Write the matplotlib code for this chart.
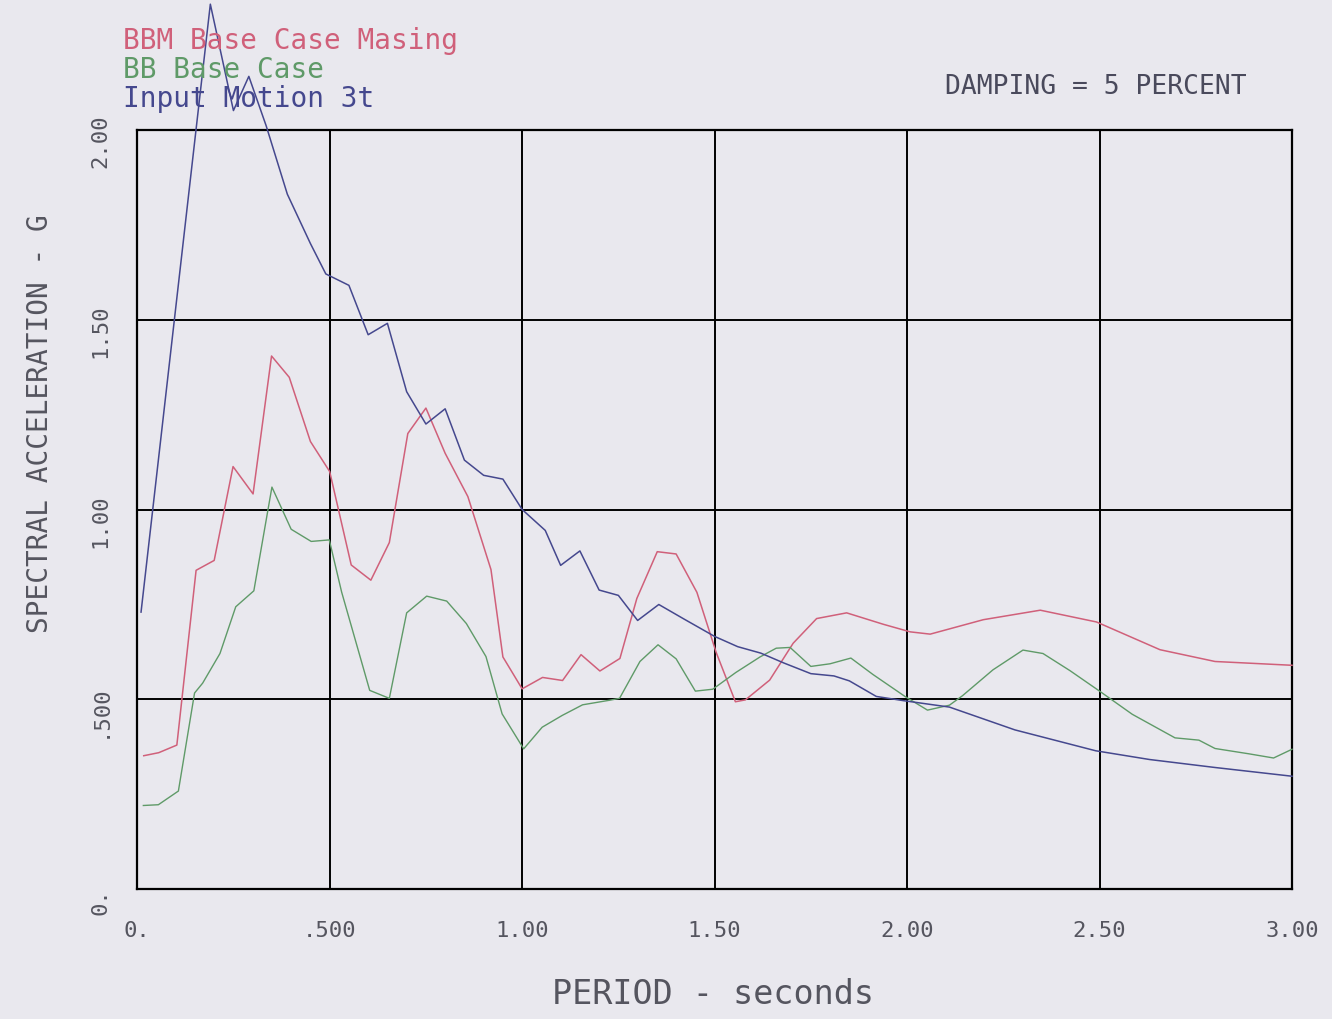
import matplotlib
matplotlib.use("Agg")
import matplotlib.pyplot as plt
import matplotlib.transforms as mtransforms

# Input Motion 3t (blue)
period_input = [0.01, 0.19, 0.25, 0.29, 0.335, 0.39, 0.45, 0.49, 0.55, 0.60, 0.65,
                0.70, 0.75, 0.80, 0.85, 0.90, 0.95, 1.00, 1.06, 1.10, 1.15, 1.20,
                1.25, 1.30, 1.355, 1.42, 1.50, 1.56, 1.62, 1.68, 1.75, 1.81, 1.85,
                1.92, 1.99, 2.11, 2.28, 2.49, 2.63, 2.80, 3.00]
sa_input = [0.73, 2.33, 2.05, 2.14, 2.01, 1.83, 1.70, 1.62, 1.59, 1.46, 1.49,
            1.31, 1.225, 1.265, 1.13, 1.09, 1.08, 1.00, 0.945, 0.853, 0.891, 0.788,
            0.774, 0.708, 0.75, 0.712, 0.666, 0.639, 0.622, 0.596, 0.568, 0.562, 0.549,
            0.508, 0.497, 0.48, 0.42, 0.365, 0.342, 0.321, 0.298]

# BBM Base Case Masing (red)
period_bbm = [0.017, 0.056, 0.103, 0.153, 0.20, 0.249, 0.301, 0.349, 0.395, 0.45,
              0.50, 0.556, 0.607, 0.655, 0.703, 0.75, 0.80, 0.859, 0.919, 0.95,
              1.00, 1.053, 1.105, 1.153, 1.202, 1.254, 1.298, 1.351, 1.40, 1.454,
              1.504, 1.554, 1.58, 1.643, 1.704, 1.765, 1.843, 1.938, 2.008, 2.06,
              2.198, 2.346, 2.492, 2.657, 2.80, 3.00]
sa_bbm = [0.352, 0.36, 0.38, 0.84, 0.866, 1.113, 1.041, 1.404, 1.348, 1.179,
          1.10, 0.854, 0.814, 0.913, 1.20, 1.267, 1.148, 1.034, 0.842, 0.612,
          0.528, 0.558, 0.55, 0.618, 0.575, 0.608, 0.766, 0.889, 0.883, 0.782,
          0.624, 0.494, 0.499, 0.551, 0.648, 0.713, 0.728, 0.698, 0.678, 0.672,
          0.71, 0.735, 0.704, 0.631, 0.60, 0.59]

# BB Base Case (green)
period_bb = [0.016, 0.055, 0.107, 0.149, 0.17, 0.215, 0.256, 0.303, 0.35, 0.40,
             0.452, 0.499, 0.531, 0.604, 0.655, 0.70, 0.752, 0.804, 0.855, 0.906,
             0.948, 1.004, 1.052, 1.104, 1.157, 1.227, 1.253, 1.306, 1.353, 1.40,
             1.45, 1.495, 1.555, 1.618, 1.66, 1.696, 1.75, 1.80, 1.854, 1.911,
             1.996, 2.053, 2.11, 2.144, 2.223, 2.301, 2.353, 2.423, 2.50, 2.585,
             2.696, 2.758, 2.80, 2.888, 2.952, 3.00]
sa_bb = [0.221, 0.223, 0.259, 0.517, 0.543, 0.621, 0.744, 0.786, 1.059, 0.948,
         0.916, 0.92, 0.783, 0.524, 0.503, 0.728, 0.772, 0.759, 0.70, 0.613,
         0.462, 0.37, 0.427, 0.458, 0.486, 0.498, 0.503, 0.60, 0.644, 0.607,
         0.522, 0.527, 0.571, 0.612, 0.635, 0.637, 0.587, 0.594, 0.609, 0.566,
         0.507, 0.472, 0.485, 0.51, 0.578, 0.63, 0.621, 0.576, 0.522, 0.461,
         0.399, 0.393, 0.371, 0.357, 0.346, 0.369]

x_ticks = [0.0, 0.5, 1.0, 1.5, 2.0, 2.5, 3.0]
x_tick_labels = ["0.", ".500", "1.00", "1.50", "2.00", "2.50", "3.00"]
y_ticks = [0.0, 0.5, 1.0, 1.5, 2.0]
y_tick_labels = ["0.", ".500", "1.00", "1.50", "2.00"]

series_names = ["BBM Base Case Masing", "BB Base Case", "Input Motion 3t"]
series_colors = ["#d0607a", "#5f9a68", "#45488e"]

BG = "#e9e8ee"
TXT = "#55555f"
plt.rcParams["font.family"] = ["DejaVu Sans Mono"]

fig = plt.figure(figsize=(13.32, 10.2), dpi=100, facecolor=BG)
ax = fig.add_axes([0.103, 0.127, 0.867, 0.745], facecolor=BG)

ax.set_xlim(0, 3.0)
ax.set_ylim(0, 2.0)

for xv in x_ticks[1:-1]:
    ax.axvline(xv, color="black", lw=1.4, zorder=1)
for yv in y_ticks[1:-1]:
    ax.axhline(yv, color="black", lw=1.4, zorder=1)
for sp in ax.spines.values():
    sp.set_color("black")
    sp.set_linewidth(1.6)

ax.plot(period_bbm, sa_bbm, color=series_colors[0], lw=1.1, clip_on=False, zorder=3)
ax.plot(period_bb, sa_bb, color=series_colors[1], lw=1.0, clip_on=False, zorder=3)
ax.plot(period_input, sa_input, color=series_colors[2], lw=1.1, clip_on=False, zorder=3)

ax.set_xticks(x_ticks)
ax.set_xticklabels(x_tick_labels, fontsize=16, color=TXT)
ax.tick_params(axis="x", length=0, pad=22)
ax.set_yticks([])

ytrans = mtransforms.offset_copy(ax.get_yaxis_transform(), fig=fig, x=0, y=-11, units="dots")
for yv, lab in zip(y_ticks, y_tick_labels):
    ax.text(-0.032, yv, lab, transform=ytrans, rotation=90, ha="center", va="center",
            fontsize=16, color=TXT)

fig.text(0.030, 0.585, "SPECTRAL ACCELERATION - G", rotation=90, ha="center", va="center",
         fontsize=20, color=TXT)
fig.text(0.535, 0.025, "PERIOD - seconds", ha="center", va="center", fontsize=24, color=TXT)
fig.text(0.823, 0.915, "DAMPING = 5 PERCENT", ha="center", va="center", fontsize=19,
         color="#4a4a5c")

for i, (name, col) in enumerate(zip(series_names, series_colors)):
    fig.text(0.092, 0.960 - i * 0.0285, name, ha="left", va="center", fontsize=20, color=col)

fig.savefig("out.png", dpi=100, facecolor=BG)
